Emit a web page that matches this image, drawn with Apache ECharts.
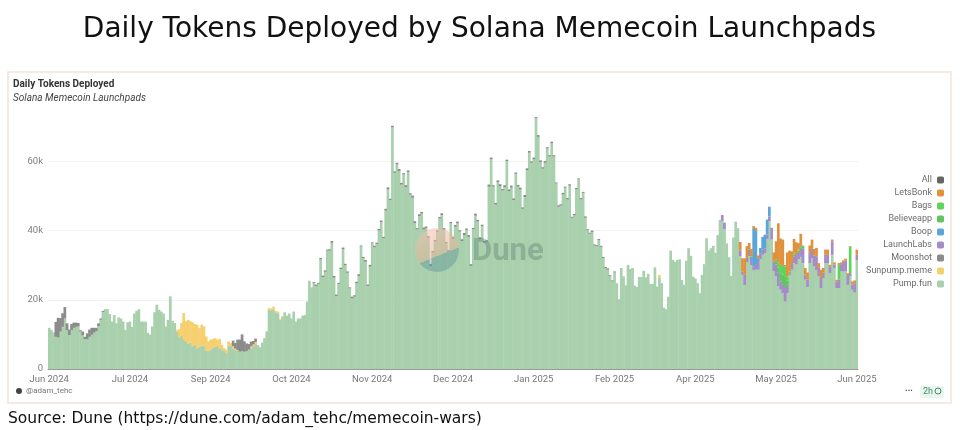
<!DOCTYPE html>
<html>
<head>
<meta charset="utf-8">
<style>html,body{margin:0;padding:0;background:#fff}#c{width:960px;height:430px}</style>
<script src="https://cdn.jsdelivr.net/npm/echarts@6/dist/echarts.min.js"></script>
</head>
<body>
<div id="c"></div>
<script>
// values in thousands of tokens per day
const tickIndex = [0,36,72,108,144,180,216,252,288,324,360];
const tickLabels = ['Jun 2024','Jul 2024','Sep 2024','Oct 2024','Nov 2024','Dec 2024','Jan 2025','Feb 2025','Apr 2025','May 2025','Jun 2025'];
const yTicks = {0:'0',20:'20k',40:'40k',60:'60k'};

const pumpFun = [
11.9,11.3,10.6,9.3,9.1,10.8,12.2,14.6,11.2,9.8,11.2,11.9,12.2,12.3,10.8,9.7,8.6,8.6,9.3,9.9,10.5,10.9,12.4,14.2,16.5,
17.3,17.3,15.9,13.7,15.6,13.2,14.9,14.6,13.7,11.3,13.5,13.7,12.2,16,16.8,17.3,13.7,13.7,13.7,10.4,9.9,12.3,16.4,18.6,17.1,16.6,16,12.3,14.2,21,13.9,13.3,
10.8,9.2,9.6,8.6,7.8,7.4,7.6,6.6,7,6,6.4,6.8,6.6,5.4,5.2,5.6,6.2,6.4,6.6,6,5.7,5.2,4.6,6.6,6.8,6,5.6,5.2,5,5.2,5,5.2,5.6,6,6.6,7.2,6.9,6.3,7.6,8.9,10.9,
17.2,17,17.3,16.4,16.1,14.2,15.1,16.4,15.4,16,14.6,16.6,13.7,14.6,14.6,15.4,15.6,19.5,25.5,23.6,24.8,24,24.6,31.7,26.5,28.1,34.2,34.2,36.5,26.4,21.1,24.6,28.9,34.6,30,27.8,23.3,20.4,20.9,24.8,26.9,35.4,32,31,24,29.6,36.3,35.2,36.1,40,42.4,37.8,
45.8,51.9,48.8,69.8,56.7,59.1,57.2,53.3,56.2,52.6,56.9,50.4,49.5,42.2,40.3,44.2,44.9,40.3,40.8,37.9,
29.8,33.7,36.8,39.5,43.5,44.5,40.2,36.3,33.9,42.1,37.6,41.1,42.1,39.7,37,38.7,40.2,38.2,29.8,40.4,44.3,42.6,37.6,41.3,36.5,36.8,
52.7,60.6,52.7,47.5,54,52.8,51.6,52.6,60.1,51.4,52.4,48.8,56.4,52.7,51.9,46.3,49.7,57.5,62.5,59.6,60.6,72.4,67.1,59.8,57.9,59.6,63.7,61.4,65.2,61.4,53.6,46.9,47.2,50.4,52.4,49,53,43.7,44.4,51.9,54.8,49,50.9,43.7,40.1,39.1,39.6,35.7,35.5,37.2,35.3,32.1,
29.2,28.7,26.8,25.3,27.9,24.8,20.2,29.2,26.8,24.2,30.1,28.9,29.2,24.1,23.7,26.6,26.6,
28.4,26.5,27.5,24.6,24.6,29.4,23.8,26.3,24.8,17.7,17.3,20.9,34.2,31.5,31,31.5,31.7,25.7,24.3,31.3,34.9,32.7,26.7,26.2,24.8,21.9,27.2,30.3,37.8,34.2,34.9,35.6,33.6,38.7,43.1,42.8,40.4,36.3,32.3,26.9,38,42.6,40.7,
32.6,27.2,24.3,30.8,32.6,30,28.5,28.7,28.7,31.8,33,33.5,37.6,42.7,37.4,28.2,26.8,23.9,22.9,21.9,19.5,21.9,27.2,28.7,30.6,30.2,31.8,32.4,30.6,25.8,23.7,30.6,32,29.7,28.5,26.8,23.4,26.3,30.6,30.6,27.7,33,29.2,23.4,23.4,28.2,28.2,28.2,24.3,26.8,22.9,22.1,31.4
];

const sunpumpSummer = [.5,2.3,3.7,7.6,6,6.8,6.2,6.9,6,6.8,5.4,6,5.7,4,2.8,2.9,2.5,2.5,1.9,2.7,1.3,.8,1,1.4,.7,.6,.3,.3,0,0,0,0,0,.6,.5,.6,0,0,0,0,0,.4,.5,.7,.4,.5,.3,.2];
const sunpumpSpring = [.9];
const moonshotJun = [4.3,5.7,3.9,3.9,3.3,2,1.6,1.8,1.5,1.2,1,.4,1.1,.7,1.7,2.1,2,1.4,1,.8,.4,.3];
const moonshotSep = [1.6,1.6,3,3.5,4.8,3,2.2,1.6,1.3,1,1];
const moonshotLate = [
.3,.4,.3,.4,.5,.4,.3,.4,.5,.5,.4,.3,.4,.5,.4,.4,.3,.5,.4,.4,.5,.3,.4,.5,.4,.5,.3,.4,.4,.5,
.5,.4,.5,.6,.4,.5,.4,.5,.6,.5,.4,.5,.5,.4,.6,.5,.4,.5,.5,.6,.4,.5,.5,.4,.5,.6,.4,.5,.5,.4,
.5,.4,.6,.5,.5,.4,.5,.6,.4,.5,.5,.4,.6,.5,.5,.4,.5,.4,.6,.5,.4,.5,.5,.6,.4,.5,.4,.5,.6,.5,
.4,.5,.5,.4,.6,.5,.5,.4,.5,.4,.5,.5,.4,.5,.4,.4,.5,.4,.3,.4,.4,.5,.3,.4,.4,.3,.4,.4,.3,.4,
.3,.4,.3,.3,.4,.3,.3,.4,.3,.3,.3,.4,.3,.3,.3];
const launchLabs = [1.7,1.9,0,0,0,0,0,0,
1.7,1,2.9,1.3,1.2,1.5,1.2,1.4,2.5,1.7,1.5,1.4,1.3,1.4,3.4,2.9,3.4,3.9,2.4,2.4,3.9,2.4,.5,1.9,1.9,3,2,2.3,4.3,1.5,2.1,2.9,2.9,3.1,4.1,2.4,2.9,1.5,2.4,2.4,1.9,3.9,1,1.9,2.4,2.1,2.7,3.2,2.9,.9,1.5,2.7,1.6];
const boop = [0,0,0,0,.7,1,11,10,.8,1.5,3.7,3.9,4.3,2.8];
const believeapp = [1,1.5,2.4,3,3.2,1.2,.3,0,.6,0,.4,.5,.4];
const bags = [.5,1.5,2.4,2.5,3,1.2,.2,0,.6,0,.3,.4,.3,0,0,0,0,0,0,0,0,0,0,0,0,0,0,0,4.3,0,0,0,0,7.6];
const letsBonk = [2.4,3.8,4.8,3.4,1.9,2.2,.6,.7,.8,0,0,0,0,0,0,2.6,5.2,11.3,7.6,7.6,.5,7,6,3.4,3.9,3.4,1.9,3.5,.1,1.9,2.1,2.2,2.5,1.9,2.4,1.4,2.4,1.4,1.5,1.5,.5,.5,.6,.5,.5,.5,.5,.5,.5,.2,.9,.8,1.5];

const n = pumpFun.length;
const place = (...parts) => {
  const a = new Array(n).fill(0);
  parts.forEach(([s, v]) => v.forEach((x, i) => { if (s + i < n) a[s + i] = x; }));
  return a;
};
const categories = pumpFun.map((_, i) => { const t = tickIndex.indexOf(i); return t >= 0 ? tickLabels[t] : 'd' + i; });

const R = 308;
const seriesDefs = [
  ['Pump.fun', pumpFun, '#a9d0ad'],
  ['Sunpump.meme', place([57, sunpumpSummer], [272, sunpumpSpring]), '#f6cf6e'],
  ['Moonshot', place([3, moonshotJun], [82, moonshotSep], [118, moonshotLate]), '#8b8b8b'],
  ['LaunchLabs', place([300, launchLabs]), '#a58bc9'],
  ['Boop', place([R, boop]), '#5aa6d8'],
  ['Believeapp', place([R + 16, believeapp]), '#62c462'],
  ['Bags', place([R + 16, bags]), '#5fd45a'],
  ['LetsBonk', place([R, letsBonk]), '#e0913a'],
  ['All', [], '#666666']
];
const legendOrder = ['All','LetsBonk','Bags','Believeapp','Boop','LaunchLabs','Moonshot','Sunpump.meme','Pump.fun'];

const ui = 'Roboto, "Noto Sans", sans-serif';
const chart = echarts.init(document.getElementById('c'), null, {renderer:'canvas'});
chart.setOption({
  animation:false,
  backgroundColor:'#fff',
  grid:{left:48, width:810, top:109.5, height:259.5, containLabel:false},
  legend:{
    data:legendOrder, orient:'vertical', right:11, top:169, align:'right',
    icon:'roundRect', itemWidth:7, itemHeight:7, itemGap:1,
    textStyle:{color:'#6b6b6b', fontSize:9, fontFamily:ui, lineHeight:12, height:12},
    selectedMode:false
  },
  xAxis:{
    type:'category', data:categories,
    axisLine:{lineStyle:{color:'#9a9a9a', width:1}}, axisTick:{show:false},
    axisLabel:{
      color:'#777', fontSize:9.5, fontFamily:ui, margin:6,
      interval:(i)=>tickIndex.includes(i), hideOverlap:false
    }
  },
  yAxis:{
    type:'value', min:0, max:75, interval:20,
    axisLine:{show:false}, axisTick:{show:false},
    axisLabel:{color:'#808080', fontSize:9.5, fontFamily:ui, margin:5, showMaxLabel:false, formatter:(v)=>yTicks[v] ?? ''},
    splitLine:{lineStyle:{color:'#f1f1f1', width:1}, showMinLine:false, showMaxLine:false}
  },
  series:seriesDefs.map(([name,data,color])=>({
    name, type:'bar', stack:'t', data, barWidth:2.7, itemStyle:{color}, emphasis:{disabled:true}
  })),
  graphic:[
    {type:'text', z:100, style:{x:479.5, y:30, text:'Daily Tokens Deployed by Solana Memecoin Launchpads', fill:'#111', font:'28px "DejaVu Sans"', align:'center', verticalAlign:'middle'}},
    {type:'rect', z:1, shape:{x:8, y:72, width:943, height:331}, style:{fill:'none', stroke:'#f3e3d9', lineWidth:1.5}},
    {type:'text', z:100, style:{x:13, y:84, text:'Daily Tokens Deployed', fill:'#333', font:'bold 10px '+ui, verticalAlign:'middle'}},
    {type:'text', z:100, style:{x:13, y:98, text:'Solana Memecoin Launchpads', fill:'#444', font:'italic 10px '+ui, verticalAlign:'middle'}},
    {type:'circle', z:100, shape:{cx:437, cy:250, r:22}, style:{
      fill:{type:'linear', x:0.3, y:0, x2:0.7, y2:1, colorStops:[
        {offset:0, color:'rgba(248,190,175,0.55)'},{offset:0.62, color:'rgba(222,180,150,0.55)'},
        {offset:0.62, color:'rgba(60,120,140,0.3)'},{offset:1, color:'rgba(60,120,140,0.3)'}]}
    }},
    {type:'text', z:100, style:{x:472, y:252, text:'Dune', fill:'rgba(90,120,110,0.38)', font:'bold 31px '+ui, verticalAlign:'middle'}},
    {type:'circle', z:100, shape:{cx:19, cy:391, r:3}, style:{fill:'#444'}},
    {type:'text', z:100, style:{x:26, y:391, text:'@adam_tehc', fill:'#777', font:'8px '+ui, verticalAlign:'middle'}},
    {type:'text', z:100, style:{x:909, y:389, text:'...', fill:'#444', font:'bold 9px '+ui, align:'center', verticalAlign:'middle'}},
    {type:'rect', z:100, shape:{x:920, y:386, width:24, height:12, r:2}, style:{fill:'#e8f6ef'}},
    {type:'text', z:101, style:{x:923, y:391.5, text:'2h', fill:'#4a8a6a', font:'9px '+ui, verticalAlign:'middle'}},
    {type:'circle', z:101, shape:{cx:938, cy:391, r:3}, style:{fill:'none', stroke:'#4a8a6a', lineWidth:1}},
    {type:'text', z:100, style:{x:8, y:419, text:'Source: Dune (https://dune.com/adam_tehc/memecoin-wars)', fill:'#111', font:'15.5px "DejaVu Sans"', verticalAlign:'middle'}}
  ]
});
</script>
</body>
</html>
